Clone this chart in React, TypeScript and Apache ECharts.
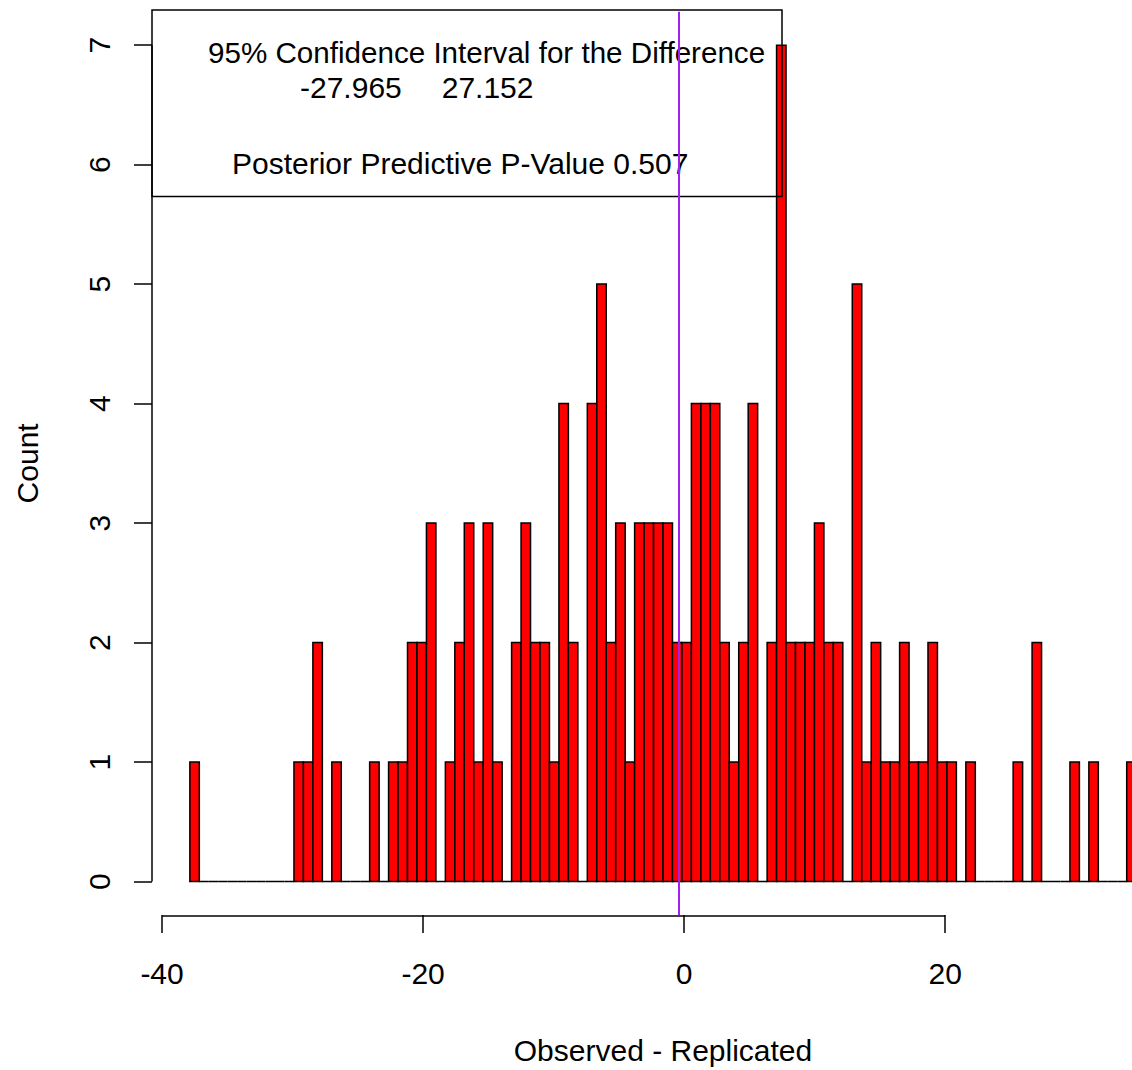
import React, { useEffect, useRef } from "react";
import * as echarts from "echarts";

// Histogram bins (100 equal-width bins)
const binStart = -37.87;
const binWidth = 0.725;
const counts = [
  1, 0, 0, 0, 0, 0, 0, 0, 0, 0,
  0, 1, 1, 2, 0, 1, 0, 0, 0, 1,
  0, 1, 1, 2, 2, 3, 0, 1, 2, 3,
  1, 3, 1, 0, 2, 3, 2, 2, 1, 4,
  2, 0, 4, 5, 2, 3, 1, 3, 3, 3,
  3, 2, 2, 4, 4, 4, 2, 1, 2, 4,
  0, 2, 7, 2, 2, 2, 3, 2, 2, 0,
  5, 1, 2, 1, 1, 2, 1, 1, 2, 1,
  1, 0, 1, 0, 0, 0, 0, 1, 0, 2,
  0, 0, 0, 1, 0, 1, 0, 0, 0, 1,
];

const xTicks = [-40, -20, 0, 20];
const yTicks = [0, 1, 2, 3, 4, 5, 6, 7];
// visible part of the plot region (the original figure is cropped on the right)
const xRange = [-40.77, 34.31];
const yRange = [-0.28, 7.28];
const observedLine = -0.42;

const ciLow = "-27.965";
const ciHigh = "27.152";
const legendTitle = "95% Confidence Interval for the Difference";
const pValueText = "Posterior Predictive P-Value 0.507";

const FONT = "'Liberation Sans', Arial, sans-serif";

export default function App() {
  const ref = useRef<HTMLDivElement>(null);

  useEffect(() => {
    if (!ref.current) return;
    const chart = echarts.init(ref.current, undefined, { renderer: "svg" });

    const barData = counts.map((c, i) => [
      binStart + i * binWidth,
      binStart + (i + 1) * binWidth,
      c,
    ]);

    const option: any = {
      animation: false,
      backgroundColor: "#ffffff",
      grid: { left: 152, right: 0, top: 11.7, bottom: 149.6, containLabel: false },
      xAxis: {
        type: "value",
        min: xRange[0],
        max: xRange[1],
        axisLine: { show: false, onZero: false },
        splitLine: { show: false },
        axisTick: {
          show: true,
          customValues: xTicks,
          length: 18,
          lineStyle: { color: "#000", width: 1.5 },
        },
        axisLabel: {
          customValues: xTicks,
          margin: 43,
          fontSize: 30,
          color: "#000",
          fontFamily: FONT,
        },
        name: "Observed - Replicated",
        nameLocation: "middle",
        nameGap: 120,
        nameTextStyle: { fontSize: 30, color: "#000", fontFamily: FONT, padding: [0, 0, 0, 42] },
      },
      yAxis: {
        type: "value",
        min: yRange[0],
        max: yRange[1],
        axisLine: { show: false, onZero: false },
        splitLine: { show: false },
        axisTick: {
          show: true,
          customValues: yTicks,
          length: 18,
          lineStyle: { color: "#000", width: 1.5 },
        },
        axisLabel: {
          customValues: yTicks,
          rotate: 90,
          margin: 38,
          fontSize: 30,
          color: "#000",
          fontFamily: FONT,
        },
        name: "Count",
        nameLocation: "middle",
        nameGap: 110,
        nameRotate: 90,
        nameTextStyle: { fontSize: 30, color: "#000", fontFamily: FONT },
      },
      series: [
        {
          type: "custom",
          name: "bars",
          data: barData,
          encode: { x: [0, 1], y: 2 },
          clip: true,
          renderItem: (params: any, api: any) => {
            const p0 = api.coord([api.value(0), api.value(2)]);
            const p1 = api.coord([api.value(1), 0]);
            return {
              type: "rect",
              shape: { x: p0[0], y: p0[1], width: p1[0] - p0[0], height: p1[1] - p0[1] },
              style: { fill: "#FF0000", stroke: "#000000", lineWidth: 1.5 },
            };
          },
          z: 2,
        },
        {
          type: "custom",
          name: "axes",
          data: [[0]],
          clip: false,
          silent: true,
          renderItem: (params: any, api: any) => {
            const xa = api.coord([xTicks[0], yRange[0]]);
            const xb = api.coord([xTicks[xTicks.length - 1], yRange[0]]);
            const ya = api.coord([xRange[0], yTicks[0]]);
            const yb = api.coord([xRange[0], yTicks[yTicks.length - 1]]);
            return {
              type: "group",
              children: [
                {
                  type: "line",
                  shape: { x1: xa[0], y1: xa[1] + 1, x2: xb[0], y2: xb[1] + 1 },
                  style: { stroke: "#000", lineWidth: 1.5 },
                },
                {
                  type: "line",
                  shape: { x1: ya[0], y1: ya[1], x2: yb[0], y2: yb[1] },
                  style: { stroke: "#000", lineWidth: 1.5 },
                },
              ],
            };
          },
          z: 3,
        },
        {
          type: "line",
          name: "observed",
          data: [],
          markLine: {
            silent: true,
            symbol: "none",
            label: { show: false },
            lineStyle: { color: "#A020F0", width: 2, type: "solid" },
            data: [{ xAxis: observedLine }],
          },
          z: 5,
        },
      ],
      graphic: [
        {
          type: "rect",
          shape: { x: 152, y: 10, width: 630, height: 186.5 },
          style: { fill: "none", stroke: "#000", lineWidth: 1.5 },
          z: 4,
        },
        {
          type: "text",
          x: 208,
          y: 52.5,
          style: { text: legendTitle, fontSize: 29.6, fontFamily: FONT, fill: "#000", verticalAlign: "middle" },
          z: 4,
        },
        {
          type: "text",
          x: 300,
          y: 87.5,
          style: { text: ciLow, fontSize: 30, fontFamily: FONT, fill: "#000", verticalAlign: "middle" },
          z: 4,
        },
        {
          type: "text",
          x: 441.7,
          y: 87.5,
          style: { text: ciHigh, fontSize: 30, fontFamily: FONT, fill: "#000", verticalAlign: "middle" },
          z: 4,
        },
        {
          type: "text",
          x: 232,
          y: 163.3,
          style: { text: pValueText, fontSize: 30, fontFamily: FONT, fill: "#000", verticalAlign: "middle" },
          z: 4,
        },
      ],
    };

    chart.setOption(option);
    return () => chart.dispose();
  }, []);

  return (
    <div
      ref={ref}
      style={{ position: "absolute", left: 0, top: 0, width: 1132, height: 1070, background: "#fff" }}
    />
  );
}
